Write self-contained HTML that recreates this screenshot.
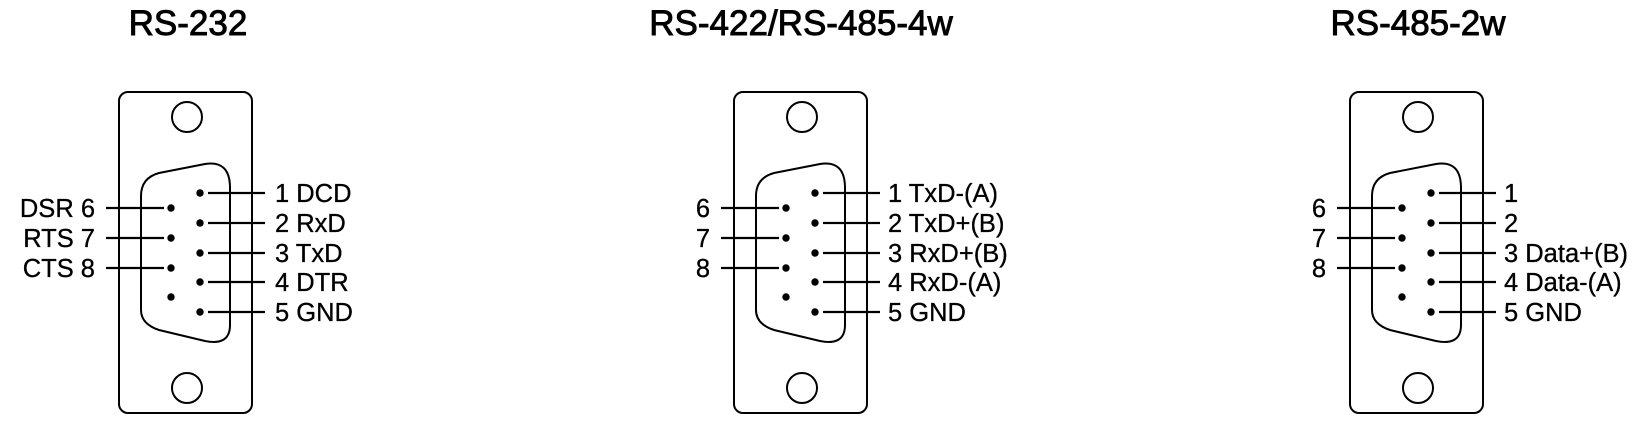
<!DOCTYPE html>
<html><head><meta charset="utf-8"><style>
html,body{margin:0;padding:0;background:#fff;}
svg{display:block;}
text{font-family:"Liberation Sans",Arial,sans-serif;fill:#000;}
</style></head><body>
<svg width="1648" height="438" viewBox="0 0 1648 438" xmlns="http://www.w3.org/2000/svg">
<defs>
<g id="conn" fill="none" stroke="#000" stroke-width="2">
<rect x="0" y="92" width="133" height="321" rx="9"/>
<circle cx="68" cy="117" r="15"/>
<circle cx="68" cy="388" r="15"/>
<path d="M22,196 Q22,178 40,173 L86,164 Q111,160 111,188 L111,325 Q111,346 86,341 L40,330 Q22,324 22,310 Z"/>
<g stroke-width="2.2">
<line x1="-13" y1="208" x2="45" y2="208"/>
<line x1="-13" y1="238" x2="45" y2="238"/>
<line x1="-13" y1="268" x2="45" y2="268"/>
<line x1="89" y1="193" x2="146" y2="193"/>
<line x1="89" y1="223" x2="146" y2="223"/>
<line x1="89" y1="253" x2="146" y2="253"/>
<line x1="89" y1="282" x2="146" y2="282"/>
<line x1="89" y1="312" x2="146" y2="312"/>
</g>
<g fill="#000" stroke="none">
<circle cx="52" cy="208" r="3.7"/><circle cx="52" cy="238" r="3.7"/><circle cx="52" cy="268" r="3.7"/><circle cx="52" cy="297" r="3.7"/>
<circle cx="81" cy="193" r="3.7"/><circle cx="81" cy="223" r="3.7"/><circle cx="81" cy="253" r="3.7"/><circle cx="81" cy="282" r="3.7"/><circle cx="81" cy="312" r="3.7"/>
</g>
</g>
</defs>

<g stroke="#000" stroke-width="0.9">
<text x="188" y="35" font-size="35" text-anchor="middle">RS-232</text>
<text x="801" y="35" font-size="35" text-anchor="middle">RS-422/RS-485-4w</text>
<text x="1418" y="35" font-size="35" text-anchor="middle">RS-485-2w</text>
</g>

<use href="#conn" x="119" y="0"/>
<use href="#conn" x="734" y="0"/>
<use href="#conn" x="1350" y="0"/>

<g font-size="25.5" stroke="#000" stroke-width="0.3">
<g text-anchor="end">
<text x="95" y="217">DSR 6</text>
<text x="95" y="247">RTS 7</text>
<text x="95" y="277">CTS 8</text>
<text x="710" y="217">6</text>
<text x="710" y="247">7</text>
<text x="710" y="277">8</text>
<text x="1326" y="217">6</text>
<text x="1326" y="247">7</text>
<text x="1326" y="277">8</text>
</g>
<text x="275" y="202">1 DCD</text>
<text x="275" y="232">2 RxD</text>
<text x="275" y="262">3 TxD</text>
<text x="275" y="291">4 DTR</text>
<text x="275" y="321">5 GND</text>

<text x="888" y="202">1 TxD-(A)</text>
<text x="888" y="232">2 TxD+(B)</text>
<text x="888" y="262">3 RxD+(B)</text>
<text x="888" y="291">4 RxD-(A)</text>
<text x="888" y="321">5 GND</text>

<text x="1504" y="202">1</text>
<text x="1504" y="232">2</text>
<text x="1504" y="262">3 Data+(B)</text>
<text x="1504" y="291">4 Data-(A)</text>
<text x="1504" y="321">5 GND</text>
</g>
</svg>
</body></html>
